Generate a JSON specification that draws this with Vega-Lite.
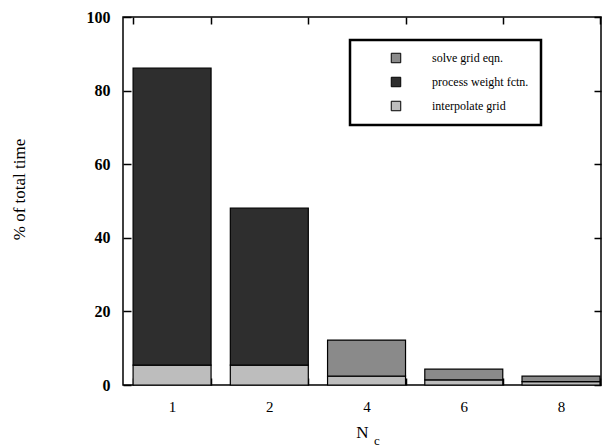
{
  "$schema": "https://vega.github.io/schema/vega-lite/v6.json",
  "width": 478,
  "height": 368,
  "autosize": "none",
  "padding": {"left": 123, "top": 17, "right": 4, "bottom": 63},
  "background": "white",
  "config": {
    "font": "Liberation Serif",
    "view": {"stroke": "black", "strokeWidth": 1.5},
    "axis": {"domainColor": "black", "ticks": true, "tickColor": "black", "tickWidth": 1.5, "tickOpacity": 1, "labelColor": "black", "titleColor": "black", "grid": false},
    "legend": {"strokeWidth": 2.5}
  },
  "title": {"text": "c", "orient": "bottom", "anchor": "middle", "dx": 15, "dy": -9, "fontSize": 13, "fontWeight": "normal", "font": "Liberation Serif", "color": "black"},
  "data": {
    "values": [
      {"Nc": 1, "task": "interpolate grid", "pct": 5.4},
      {"Nc": 1, "task": "process weight fctn.", "pct": 80.7},
      {"Nc": 2, "task": "interpolate grid", "pct": 5.4},
      {"Nc": 2, "task": "process weight fctn.", "pct": 42.7},
      {"Nc": 4, "task": "interpolate grid", "pct": 2.4},
      {"Nc": 4, "task": "solve grid eqn.", "pct": 9.8},
      {"Nc": 6, "task": "interpolate grid", "pct": 1.4},
      {"Nc": 6, "task": "solve grid eqn.", "pct": 2.9},
      {"Nc": 8, "task": "interpolate grid", "pct": 0.9},
      {"Nc": 8, "task": "solve grid eqn.", "pct": 1.5}
    ]
  },
  "layer": [
    {
      "mark": {"type": "bar", "stroke": "black", "strokeWidth": 1.2},
      "encoding": {
        "x": {
          "field": "Nc", "type": "ordinal", "sort": [1, 2, 4, 6, 8],
          "scale": {"paddingInner": 0.198, "paddingOuter": 0.057, "align": 0.91},
          "axis": {"orient": "bottom", "offset": -7, "ticks": true, "tickBand": "extent", "labelAngle": 0, "tickSize": 7, "labelPadding": 21, "labelFontSize": 15, "labelBaseline": "middle", "title": "N", "titleFontSize": 17, "titleFontWeight": "normal", "titlePadding": 10, "domain": false}
        },
        "y": {
          "field": "pct", "type": "quantitative", "stack": "zero",
          "scale": {"domain": [0, 100]},
          "axis": {"values": [0, 20, 40, 60, 80, 100], "offset": -8, "ticks": true, "tickSize": 8, "labelPadding": 13, "labelFontSize": 16, "labelFontWeight": "bold", "title": "% of total time", "titleFontSize": 17, "titleFontWeight": "normal", "titleX": -103, "titleY": 172, "domain": false}
        },
        "color": {
          "field": "task", "type": "nominal",
          "scale": {"domain": ["solve grid eqn.", "process weight fctn.", "interpolate grid"], "range": ["#8a8a8a", "#2e2e2e", "#bdbdbd"]},
          "legend": {"orient": "none", "legendX": 227, "legendY": 23, "title": null, "fillColor": "white", "strokeColor": "black", "padding": 12, "rowPadding": 10, "symbolType": "square", "symbolSize": 90, "symbolStrokeColor": "black", "symbolStrokeWidth": 1, "symbolOffset": 28, "labelOffset": 30, "labelFontSize": 12, "labelColor": "black"}
        },
        "order": {"field": "task", "sort": "ascending"}
      }
    },
    {
      "mark": {"type": "bar", "opacity": 0},
      "encoding": {
        "x": {"field": "Nc", "type": "ordinal", "sort": [1, 2, 4, 6, 8], "axis": {"orient": "top", "offset": -7, "ticks": true, "tickBand": "extent", "tickSize": 7, "labels": false, "title": null, "domain": false}},
        "y": {"field": "pct", "type": "quantitative", "stack": "zero", "axis": {"orient": "right", "offset": -7, "ticks": true, "values": [0, 20, 40, 60, 80, 100], "tickSize": 7, "labels": false, "title": null, "domain": false}},
        "order": {"field": "task", "sort": "ascending"}
      }
    }
  ],
  "resolve": {"axis": {"x": "independent", "y": "independent"}}
}
